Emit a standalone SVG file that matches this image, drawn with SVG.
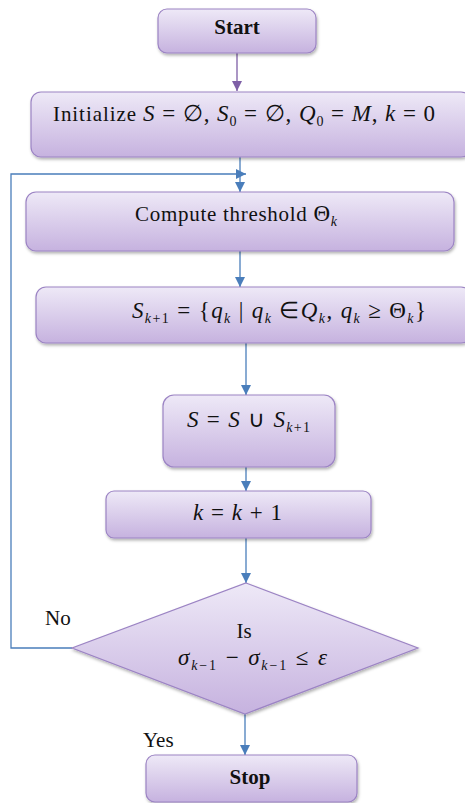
<svg xmlns="http://www.w3.org/2000/svg" width="465" height="803" viewBox="0 0 465 803">
<defs>
<linearGradient id="g" x1="0" y1="0" x2="0" y2="1">
<stop offset="0" stop-color="#EEE9F7"/>
<stop offset="1" stop-color="#C6B2DF"/>
</linearGradient>
<filter id="sh" x="-10%" y="-20%" width="120%" height="150%">
<feDropShadow dx="1" dy="2" stdDeviation="1.5" flood-color="#000" flood-opacity="0.3"/>
</filter>
<marker id="ab" viewBox="0 0 10 10" refX="10" refY="5" markerWidth="10" markerHeight="10" markerUnits="userSpaceOnUse" orient="auto">
<path d="M0,0 L10,5 L0,10 z" fill="#4A7EBB"/>
</marker>
<marker id="ap" viewBox="0 0 10 10" refX="10" refY="5" markerWidth="10" markerHeight="10" markerUnits="userSpaceOnUse" orient="auto">
<path d="M0,0 L10,5 L0,10 z" fill="#7E5FA6"/>
</marker>
</defs>
<style>
.box{fill:url(#g);stroke:#9C84C4;stroke-width:1.2;filter:url(#sh)}
.t{font-family:"Liberation Serif","Times New Roman",serif;font-size:21px;fill:#111}
.m{font-family:"Liberation Serif","Times New Roman",serif;font-size:23px;fill:#111}
.i{font-style:italic}
.s{font-size:14px}
.c{stroke:#4A7EBB;stroke-width:1.3;fill:none}
</style>
<rect width="465" height="803" fill="#fff"/>
<g id="connectors">
<line x1="237" y1="53" x2="237" y2="91" stroke="#7E5FA6" stroke-width="1.3" marker-end="url(#ap)"/>
<line class="c" x1="240" y1="157" x2="240" y2="192" marker-end="url(#ab)"/>
<polyline class="c" points="72,648 11,648 11,174 246,174" marker-end="url(#ab)"/>
<line class="c" x1="240" y1="251" x2="240" y2="287" marker-end="url(#ab)"/>
<line class="c" x1="246" y1="343" x2="246" y2="395" marker-end="url(#ab)"/>
<line class="c" x1="246" y1="467" x2="246" y2="491" marker-end="url(#ab)"/>
<line class="c" x1="246" y1="538" x2="246" y2="583" marker-end="url(#ab)"/>
<line class="c" x1="245" y1="714" x2="245" y2="755" marker-end="url(#ab)"/>
</g>
<g id="start">
<rect class="box" x="158" y="9" width="158" height="44" rx="9"/>
<text class="t" x="237" y="34" text-anchor="middle" font-weight="bold" font-size="19">Start</text>
</g>
<g id="init">
<rect class="box" x="31" y="92" width="440" height="65" rx="10"/>
<text class="t" x="53" y="121" textLength="382" lengthAdjust="spacing">Initialize <tspan class="m i">S</tspan><tspan class="m"> = ∅, </tspan><tspan class="m i">S</tspan><tspan class="s" dy="5">0</tspan><tspan class="m" dy="-5"> = ∅, </tspan><tspan class="m i">Q</tspan><tspan class="s" dy="5">0</tspan><tspan class="m" dy="-5"> = </tspan><tspan class="m i">M</tspan><tspan class="m">, </tspan><tspan class="m i">k</tspan><tspan class="m"> = 0</tspan></text>
</g>
<g id="compute">
<rect class="box" x="26" y="192" width="428" height="59" rx="10"/>
<text class="t" x="135" y="221" textLength="202" lengthAdjust="spacing">Compute threshold  <tspan class="m">Θ</tspan><tspan class="s i" dy="5">k</tspan></text>
</g>
<g id="select">
<rect class="box" x="36" y="287" width="435" height="56" rx="10"/>
<text class="m" x="132" y="318" textLength="294" lengthAdjust="spacing"><tspan class="i">S</tspan><tspan class="s i" dy="5">k</tspan><tspan class="s" dy="0">+1</tspan><tspan dy="-5"> = {</tspan><tspan class="i">q</tspan><tspan class="s i" dy="5">k</tspan><tspan dy="-5"> | </tspan><tspan class="i">q</tspan><tspan class="s i" dy="5">k</tspan><tspan dy="-5"> ∈</tspan><tspan class="i">Q</tspan><tspan class="s i" dy="5">k</tspan><tspan dy="-5">, </tspan><tspan class="i">q</tspan><tspan class="s i" dy="5">k</tspan><tspan dy="-5"> ≥ Θ</tspan><tspan class="s i" dy="5">k</tspan><tspan dy="-5">}</tspan></text>
</g>
<g id="union">
<rect class="box" x="163" y="395" width="172" height="72" rx="11"/>
<text class="m" x="187" y="427" textLength="123" lengthAdjust="spacing"><tspan class="i">S</tspan> = <tspan class="i">S</tspan> ∪ <tspan class="i">S</tspan><tspan class="s i" dy="5">k</tspan><tspan class="s">+1</tspan></text>
</g>
<g id="incr">
<rect class="box" x="106" y="491" width="265" height="47" rx="8"/>
<text class="m" x="193" y="520" textLength="89" lengthAdjust="spacing"><tspan class="i">k</tspan> = <tspan class="i">k</tspan> + 1</text>
</g>
<g id="decision">
<polygon class="box" points="246,583 418,648 245,714 72,648"/>
<text class="t" x="244" y="638" text-anchor="middle">Is</text>
<text class="m" x="178" y="665" textLength="149" lengthAdjust="spacing"><tspan class="i">σ</tspan><tspan class="s i" dy="5">k</tspan><tspan class="s">−1</tspan><tspan dy="-5"> − </tspan><tspan class="i">σ</tspan><tspan class="s i" dy="5">k</tspan><tspan class="s">−1</tspan><tspan dy="-5"> ≤ </tspan><tspan class="i">ε</tspan></text>
</g>
<text class="t" x="45" y="625">No</text>
<text class="t" x="143" y="747">Yes</text>
<g id="stop">
<rect class="box" x="146" y="755" width="211" height="47" rx="9"/>
<text class="t" x="250" y="784" text-anchor="middle" font-weight="bold" font-size="20">Stop</text>
</g>
</svg>
